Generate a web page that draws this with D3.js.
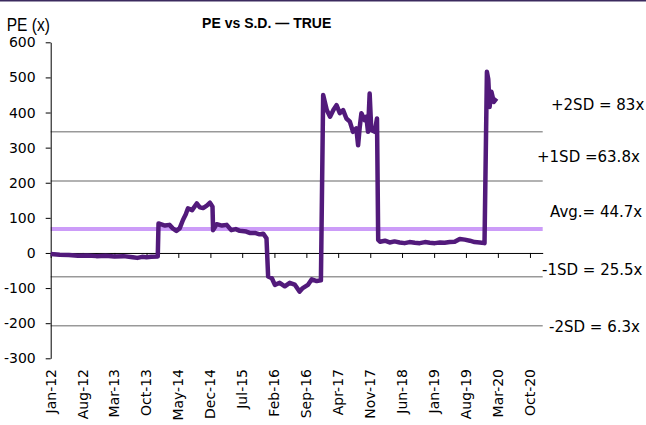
<!DOCTYPE html>
<html>
<head>
<meta charset="utf-8">
<script src="https://cdn.jsdelivr.net/npm/d3@7"></script>
<style>
body { margin: 0; background: #fff; }
svg { display: block; }
.axis path, .axis line { stroke: #000; }
.axis text { font-family: 'DejaVu Sans', sans-serif; font-size: 14px; fill: #000; }
</style>
</head>
<body>
<script>
// x tick labels (every 7 months)
const tickLabels = ['Jan-12', 'Aug-12', 'Mar-13', 'Oct-13', 'May-14', 'Dec-14', 'Jul-15', 'Feb-16',
    'Sep-16', 'Apr-17', 'Nov-17', 'Jun-18', 'Jan-19', 'Aug-19', 'Mar-20', 'Oct-20'];
const yTicks = [-300, -200, -100, 0, 100, 200, 300, 400, 500, 600];

// PE series
const dates = [
    '2012-01-01', '2012-03-01', '2012-05-01', '2012-07-01', '2012-09-01', '2012-11-01',
    '2013-01-01', '2013-03-01', '2013-05-01', '2013-07-01', '2013-08-01', '2013-09-01',
    '2013-10-01', '2013-11-01', '2013-12-15', '2013-12-20',
    '2014-02-01', '2014-03-03', '2014-03-25', '2014-04-18', '2014-05-10', '2014-06-01',
    '2014-06-20', '2014-07-04', '2014-08-01', '2014-09-01', '2014-09-22', '2014-10-13',
    '2014-11-07', '2014-11-28', '2014-12-15', '2014-12-19',
    '2015-01-12', '2015-02-16', '2015-03-20', '2015-04-19', '2015-05-19', '2015-06-15',
    '2015-07-28', '2015-08-20', '2015-09-24', '2015-10-25', '2015-11-18', '2015-12-10',
    '2015-12-21', '2016-01-15', '2016-02-04', '2016-03-07', '2016-04-10', '2016-05-13',
    '2016-06-15', '2016-07-18', '2016-08-08', '2016-09-11', '2016-10-07', '2016-11-09',
    '2016-12-07', '2016-12-22',
    '2017-01-15', '2017-02-06', '2017-02-28', '2017-03-21', '2017-04-12', '2017-05-04',
    '2017-05-26', '2017-06-18', '2017-07-09', '2017-07-31', '2017-08-12', '2017-08-23',
    '2017-09-03', '2017-09-25', '2017-10-06', '2017-10-17', '2017-10-28', '2017-11-08',
    '2017-12-01', '2017-12-16', '2017-12-24',
    '2018-01-05', '2018-02-07', '2018-03-10', '2018-04-12', '2018-05-16', '2018-06-18',
    '2018-07-21', '2018-08-25', '2018-09-27', '2018-11-01', '2018-12-03',
    '2019-01-06', '2019-02-09', '2019-03-12', '2019-04-15', '2019-05-18', '2019-06-21',
    '2019-07-24', '2019-08-27', '2019-09-28', '2019-11-01', '2019-12-03', '2019-12-19',
    '2019-12-28', '2020-01-06', '2020-01-18', '2020-02-03', '2020-02-21'
];
const pe = [
    -3, -5, -6, -8, -7, -9,
    -8, -10, -9, -12, -14, -11,
    -12, -11, -10, 84,
    78, 80, 70, 63, 70, 94,
    110, 127, 122, 141, 130, 128,
    135, 143, 132, 65,
    82, 78, 80, 65, 68, 63,
    61, 57, 57, 53, 55, 42,
    -67, -72, -91, -85, -95, -85,
    -90, -110, -100, -91, -75, -80,
    -78, 450,
    407, 388, 407, 421, 398, 407,
    383, 374, 345, 355, 307, 359,
    398, 378, 388, 345, 454, 350,
    345, 383, 37,
    32, 35, 30, 33, 30, 28,
    31, 29, 28, 31, 29,
    28, 30, 29, 31, 32, 40,
    38, 35, 31, 30, 28, 516,
    495, 416, 459, 430, 440
];

// standard deviation bands
const bandNames = ['+2SD = 83x', '+1SD =63.8x', 'Avg.= 44.7x', '-1SD = 25.5x', '-2SD = 6.3x'];
const bandValues = [345, 205, 68, -68, -207];

const width = 646;
const height = 425;
const plot = {left: 50.7, right: 542.7, top: 42.3, bottom: 358.3};
const labelPos = [[551, 110], [537, 161.7], [550, 216.7], [542, 275], [549, 331.7]];

const svg = d3.select('body').append('svg')
    .attr('width', width)
    .attr('height', height);

// top border
svg.append('rect')
    .attr('x', 0).attr('y', 0)
    .attr('width', width).attr('height', 1.5)
    .attr('fill', '#3b2a5e');

const parseDay = d3.timeParse('%Y-%m-%d');
const parseTick = d3.timeParse('%b-%y');
const data = dates.map((d, i) => ({date: parseDay(d), value: pe[i]}));

const xScale = d3.scaleTime()
    .domain([parseDay('2012-01-01'), parseDay('2020-12-25')])
    .range([plot.left, plot.right]);

const yScale = d3.scaleLinear()
    .domain([-300, 600])
    .range([plot.bottom, plot.top]);

// SD lines
bandValues.forEach((v, i) => {
    svg.append('line')
        .attr('x1', plot.left).attr('x2', plot.right)
        .attr('y1', yScale(v)).attr('y2', yScale(v))
        .attr('stroke', i == 2 ? '#cc9cf8' : '#999')
        .attr('stroke-width', i == 2 ? 4 : 1.5);
    svg.append('text')
        .text(bandNames[i])
        .attr('x', labelPos[i][0])
        .attr('y', labelPos[i][1])
        .style('font-family', "'DejaVu Sans', sans-serif")
        .style('font-size', '15px');
});

// y axis
svg.append('g')
    .attr('class', 'axis')
    .attr('transform', `translate(${plot.left}, 0)`)
    .call(d3.axisLeft(yScale).tickValues(yTicks).tickSize(5).tickSizeOuter(0).tickPadding(10)
        .tickFormat(d => String(d)));

// x axis at zero, labels at the bottom
const tickDates = tickLabels.map(t => parseTick(t));
svg.append('g')
    .attr('class', 'axis')
    .attr('transform', `translate(0, ${yScale(0)})`)
    .call(d3.axisBottom(xScale).tickValues(tickDates).tickSize(5).tickSizeOuter(0).tickFormat(''));

svg.append('g')
    .selectAll('text')
    .data(tickDates)
    .join('text')
    .text((d, i) => tickLabels[i])
    .attr('transform', d => `translate(${xScale(d)}, 369) rotate(-90)`)
    .attr('dy', '0.35em')
    .attr('text-anchor', 'end')
    .style('font-family', "'DejaVu Sans', sans-serif")
    .style('font-size', '14px');

// PE line
const line = d3.line()
    .x(d => xScale(d.date))
    .y(d => yScale(d.value));

svg.append('path')
    .datum(data)
    .attr('d', line)
    .attr('fill', 'none')
    .attr('stroke', '#521a7b')
    .attr('stroke-width', 4.5)
    .attr('stroke-linejoin', 'round');

// titles
svg.append('text')
    .text('PE vs S.D. — TRUE')
    .attr('x', 266.7)
    .attr('y', 28.3)
    .attr('text-anchor', 'middle')
    .style('font-family', "'Liberation Sans', Arial, sans-serif")
    .style('font-weight', 'bold')
    .style('font-size', '14px');

svg.append('text')
    .text('PE (x)')
    .attr('transform', 'translate(6.7, 31) scale(0.82, 1)')
    .style('font-family', "'Liberation Sans', Arial, sans-serif")
    .style('font-size', '19px');
</script>
</body>
</html>
